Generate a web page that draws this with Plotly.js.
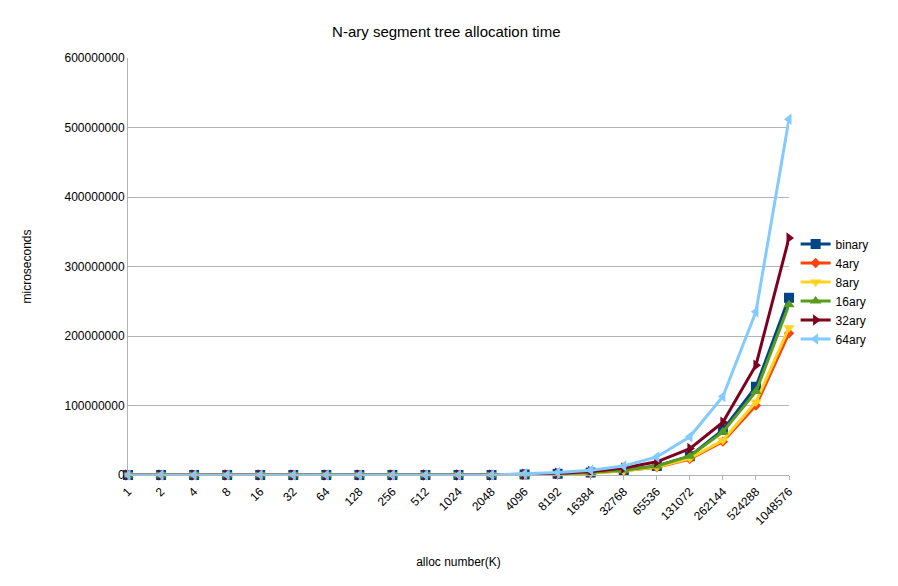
<!DOCTYPE html>
<html>
<head>
<meta charset="utf-8">
<script src="https://cdn.plot.ly/plotly-3.0.1.min.js"></script>
<style>body{margin:0;background:#fff}</style>
</head>
<body>
<div id="plot" style="width:898px;height:586px"></div>
<script>
var categories = ['1','2','4','8','16','32','64','128','256','512','1024','2048','4096','8192','16384','32768','65536','131072','262144','524288','1048576'];
var binary = [1,2,4,8,15,30,60,120,240,480,950,1900,800000,1700000,3500000,7000000,13000000,27000000,65000000,127000000,255000000];
var ary4   = [1,2,4,8,15,30,60,120,240,480,950,1900,700000,1500000,3000000,6000000,11000000,23000000,48000000,100000000,204000000];
var ary8   = [1,2,4,8,15,30,60,120,240,480,950,1900,700000,1500000,3000000,6000000,11500000,24000000,50000000,105000000,212000000];
var ary16  = [1,2,4,8,15,30,60,120,240,480,950,1900,800000,1700000,3500000,7000000,13000000,27000000,62000000,120000000,245000000];
var ary32  = [1,2,4,8,15,30,60,120,240,480,950,1900,1200000,2500000,5000000,10000000,19000000,38000000,76000000,158000000,341000000];
var ary64  = [1,2,4,8,15,30,60,120,240,480,950,1900,1700000,3500000,7000000,13000000,26000000,55000000,113000000,235000000,512000000];

var names = ['binary','4ary','8ary','16ary','32ary','64ary'];
var series = [binary, ary4, ary8, ary16, ary32, ary64];
var colors = ['#004586','#ff420e','#ffd320','#579d1c','#7e0021','#83caff'];
var symbols = ['square','diamond','triangle-down','triangle-up','triangle-right','triangle-left'];

var traces = series.map(function (s, i) {
    return {
        name: names[i], x: categories, y: s, type: 'scatter', mode: 'lines+markers',
        line: { color: colors[i], width: 3 },
        marker: { color: colors[i], symbol: symbols[i], size: i == 1 ? 8 : 10 },
        cliponaxis: false
    };
});

Plotly.newPlot('plot', traces, {
    width: 898, height: 586,
    margin: { l: 128, r: 109, t: 58, b: 111 },
    font: { family: 'Liberation Sans, Arial, sans-serif', size: 12, color: '#000' },
    title: { text: 'N-ary segment tree allocation time', x: 0.497, y: 0.955, font: { size: 15 } },
    showlegend: true,
    legend: { x: 1.01, y: 0.44, yanchor: 'middle', font: { size: 12 }, tracegroupgap: 0 },
    xaxis: {
        type: 'category', range: [0, 20], tickangle: -45, showgrid: false,
        showline: true, linecolor: '#b3b3b3', ticks: 'outside', ticklen: 4, tickcolor: '#b3b3b3',
        title: { text: 'alloc number(K)', font: { size: 12 }, standoff: 30 }
    },
    yaxis: {
        range: [0, 600000000], dtick: 100000000, tickformat: 'd', gridcolor: '#b3b3b3',
        showline: true, linecolor: '#b3b3b3', zeroline: false,
        title: { text: 'microseconds', font: { size: 12 }, standoff: 30 }
    },
    annotations: []
}, { displayModeBar: false });
</script>
</body>
</html>
